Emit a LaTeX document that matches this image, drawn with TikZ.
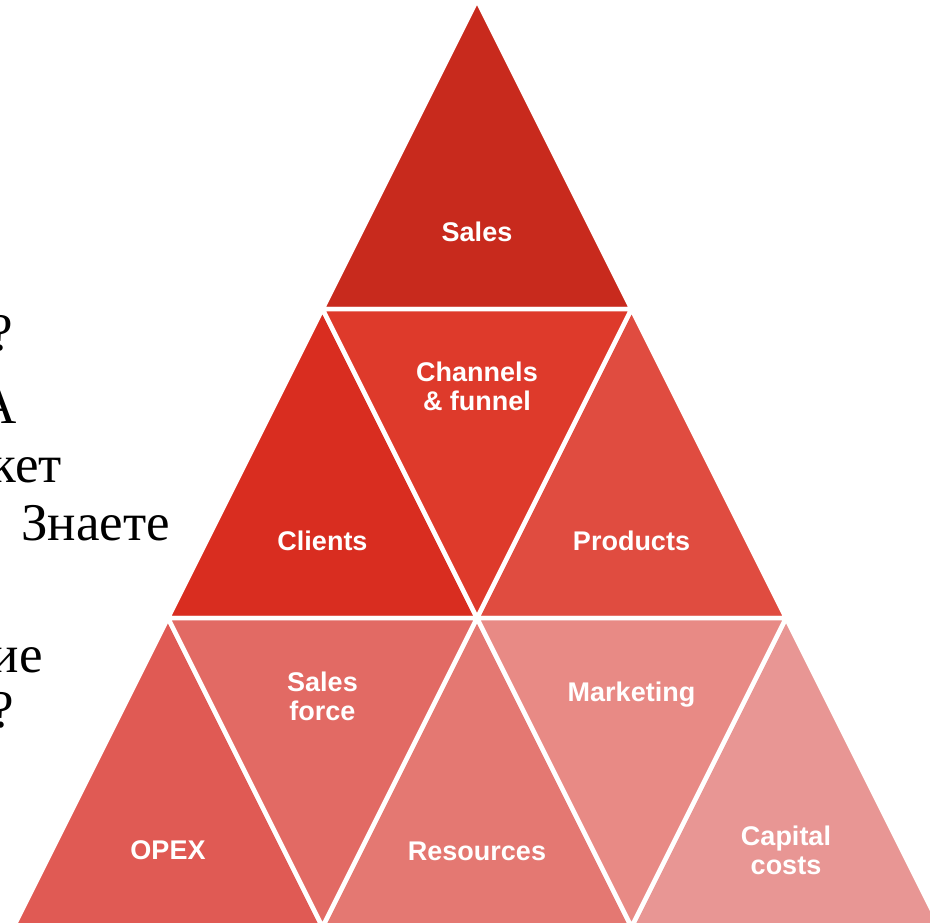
\documentclass[tikz,border=0pt]{standalone}
\usepackage{fontspec}
\setmainfont{Liberation Serif}
\newfontfamily\lblfont{Liberation Sans}
\definecolor{csales}{HTML}{C82A1D}
\definecolor{cchannels}{HTML}{DE3A2B}
\definecolor{cclients}{HTML}{D92D20}
\definecolor{cproducts}{HTML}{E04C40}
\definecolor{copex}{HTML}{E05A54}
\definecolor{cforce}{HTML}{E26A64}
\definecolor{cresources}{HTML}{E47872}
\definecolor{cmarketing}{HTML}{E88A85}
\definecolor{ccapital}{HTML}{E89694}
\tikzset{
	tri/.style={draw=white, line width=4.5pt},
	lbl/.style={text=white, align=center, font=\lblfont\bfseries\fontsize{27}{29}\selectfont},
	side/.style={anchor=base east, inner sep=0pt, font=\fontsize{53}{58}\selectfont}
}

\begin{document}
\begin{tikzpicture}[x=1pt,y=-1pt]
				\useasboundingbox (0,0) rectangle (930,923);
				\filldraw[tri,fill=csales] (477,0) -- (631.5,309) -- (322.5,309) -- cycle;
				\filldraw[tri,fill=cclients] (322.5,309) -- (477,618) -- (168,618) -- cycle;
				\filldraw[tri,fill=cproducts] (631.5,309) -- (786,618) -- (477,618) -- cycle;
				\filldraw[tri,fill=cchannels] (322.5,309) -- (631.5,309) -- (477,618) -- cycle;
				\filldraw[tri,fill=copex] (168,618) -- (322.5,927) -- (13.5,927) -- cycle;
				\filldraw[tri,fill=cresources] (477,618) -- (631.5,927) -- (322.5,927) -- cycle;
				\filldraw[tri,fill=ccapital] (786,618) -- (940.5,927) -- (631.5,927) -- cycle;
				\filldraw[tri,fill=cforce] (168,618) -- (477,618) -- (322.5,927) -- cycle;
				\filldraw[tri,fill=cmarketing] (477,618) -- (786,618) -- (631.5,927) -- cycle;
				\node[lbl] (sales) at (477,232) {Sales};
				\node[lbl] (channels) at (477,386) {Channels\\\& funnel};
				\node[lbl] (clients) at (322.5,541) {Clients};
				\node[lbl] (products) at (631.5,541) {Products};
				\node[lbl] (force) at (322.5,696) {Sales\\force};
				\node[lbl] (marketing) at (631.5,695) {Marketing};
				\node[lbl] (opex) at (168,850) {OPEX};
				\node[lbl] (resources) at (477,851) {Resources};
				\node[lbl] (capital) at (786,850) {Capital\\costs};
				\node[side] (q1) at (13,350) {?};
				\node[side] (a1) at (17,423) {А};
				\node[side] (ket) at (62,482) {кет};
				\node[side] (znaete) at (170,540) {Знаете};
				\node[side] (ie) at (43,672) {ие};
				\node[side] (q2) at (14,727) {?};
			\end{tikzpicture}
\end{document}
